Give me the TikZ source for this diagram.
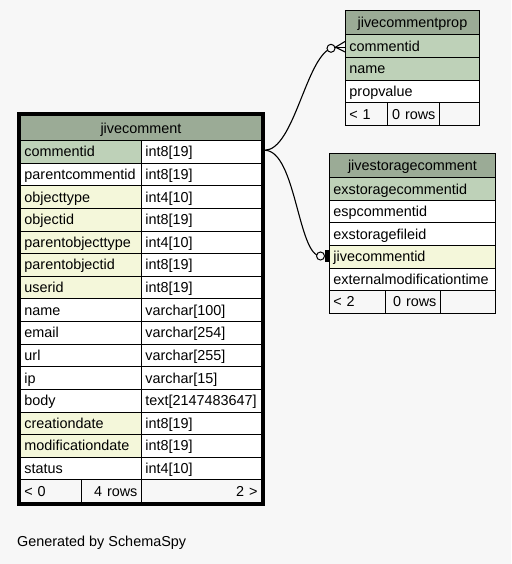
\documentclass[tikz,border=0pt]{standalone}
\usepackage{fontspec}
\setmainfont{Liberation Sans}
\newfontfamily\tabfontfam{Liberation Sans}
\newcommand\tabfont{\tabfontfam\fontsize{14.4}{16}\selectfont}
\definecolor{bgc}{HTML}{F7F7F7}
\definecolor{hdc}{HTML}{9BAB96}
\definecolor{pkc}{HTML}{BED1B8}
\definecolor{fkc}{HTML}{F4F7DA}
\definecolor{whc}{HTML}{FFFFFF}
\definecolor{ftc}{HTML}{F7F7F7}
\tikzset{
  cell/.style={draw=black, line width=0.9pt, anchor=north west, inner xsep=4pt, inner ysep=0pt,
    text height=11pt, text depth=1pt, font=\tabfont},
  hdcell/.style={cell, fill=hdc, align=center},
  conn/.style={draw=black, line width=1.1pt},
  ring/.style={circle, draw=black, fill=bgc, line width=1pt, minimum size=8pt, inner sep=0pt},
}
\begin{document}
\begin{tikzpicture}[x=1pt,y=-1pt]
\fill[bgc] (0,0) rectangle (511,564);
\useasboundingbox (0,0) rectangle (511,564);

% ---------------- jivecomment ----------------
\node[hdcell, minimum width=241pt, text width=233pt, minimum height=24.5pt] (chead) at (20,115.5) {jivecomment};
\foreach \i/\n/\t/\f in {1/commentid/int8[19]/pkc, 2/parentcommentid/int8[19]/whc, 3/objecttype/int4[10]/fkc,
  4/objectid/int8[19]/fkc, 5/parentobjecttype/int4[10]/fkc, 6/parentobjectid/int8[19]/fkc, 7/userid/int8[19]/fkc,
  8/name/varchar[100]/whc, 9/email/varchar[254]/whc, 10/url/varchar[255]/whc, 11/ip/varchar[15]/whc,
  12/body/text[2147483647]/whc, 13/creationdate/int8[19]/fkc, 14/modificationdate/int8[19]/fkc, 15/status/int4[10]/whc}{
  \pgfmathsetmacro\yy{140+(\i-1)*22.625}
  \node[cell, fill=\f, minimum width=121pt, text width=113pt, minimum height=22.625pt, align=left] (cn\i) at (20,\yy) {\n};
  \node[cell, fill=whc, minimum width=120pt, text width=112pt, minimum height=22.625pt, align=left] (ct\i) at (141,\yy) {\t};
}
\node[cell, fill=ftc, minimum width=61pt, text width=53pt, minimum height=22.625pt, align=left] (cf1) at (20,479.375) {< 0};
\node[cell, fill=ftc, minimum width=60pt, text width=52pt, minimum height=22.625pt, align=right] (cf2) at (81,479.375) {4 rows};
\node[cell, fill=ftc, minimum width=120pt, text width=112pt, minimum height=22.625pt, align=right] (cf3) at (141,479.375) {2 >};
\draw[line width=3pt] (18,114) rectangle (263,504.5);

% ---------------- jivecommentprop ----------------
\node[hdcell, minimum width=134pt, text width=126pt, minimum height=24.3pt] (phead) at (345,10) {jivecommentprop};
\foreach \i/\n/\f in {1/commentid/pkc, 2/name/pkc, 3/propvalue/whc}{
  \pgfmathsetmacro\yy{34.3+(\i-1)*22.675}
  \node[cell, fill=\f, minimum width=134pt, text width=126pt, minimum height=22.675pt, align=left] (pn\i) at (345,\yy) {\n};
}
\node[cell, fill=ftc, minimum width=41.7pt, text width=33.7pt, minimum height=22.675pt, align=left] (pf1) at (345,102.325) {< 1};
\node[cell, fill=ftc, minimum width=52.3pt, text width=44.3pt, minimum height=22.675pt, align=right] (pf2) at (386.7,102.325) {0 rows};
\node[cell, fill=ftc, minimum width=40pt, text width=32pt, minimum height=22.675pt, align=right] (pf3) at (439,102.325) {};

% ---------------- jivestoragecomment ----------------
\node[hdcell, minimum width=166pt, text width=158pt, minimum height=24pt] (shead) at (329,153.3) {jivestoragecomment};
\foreach \i/\n/\f in {1/exstoragecommentid/pkc, 2/espcommentid/whc, 3/exstoragefileid/whc, 4/jivecommentid/fkc, 5/externalmodificationtime/whc}{
  \pgfmathsetmacro\yy{177.3+(\i-1)*22.57}
  \node[cell, fill=\f, minimum width=166pt, text width=158pt, minimum height=22.57pt, align=left] (sn\i) at (329,\yy) {\n};
}
\node[cell, fill=ftc, minimum width=56pt, text width=48pt, minimum height=22.57pt, align=left] (sf1) at (329,290.15) {< 2};
\node[cell, fill=ftc, minimum width=55pt, text width=47pt, minimum height=22.57pt, align=right] (sf2) at (385,290.15) {0 rows};
\node[cell, fill=ftc, minimum width=55pt, text width=47pt, minimum height=22.57pt, align=right] (sf3) at (440,290.15) {};

% ---------------- connectors ----------------
\coordinate (s) at ([xshift=3pt,yshift=1.5pt]ct1.east);
\coordinate (r1) at (331,48.3);
\coordinate (r2) at (320.5,256);
\draw[conn] (s) .. controls (294,149.5) and (306,58) .. (r1);
\draw[conn] (s) .. controls (296,151) and (298,256) .. (r2);
\node[ring] (o1) at (r1) {};
\node[ring] (o2) at (r2) {};
% crow's foot at jivecommentprop.commentid
\coordinate (ca) at (335.5,47.2);
\draw[conn] (ca) -- (345,41.5);
\draw[conn] (ca) -- (345,47.2);
\draw[conn] (ca) -- (345,52);
\draw[conn] (o1.east) -- (ca);
% bar at jivestoragecomment.jivecommentid
\fill[black] (325.2,250) rectangle (328.8,262);

% ---------------- caption ----------------
\node[anchor=base west, inner sep=0pt, font=\tabfont] (gen) at (17,546.5) {Generated by SchemaSpy};
\end{tikzpicture}
\end{document}
